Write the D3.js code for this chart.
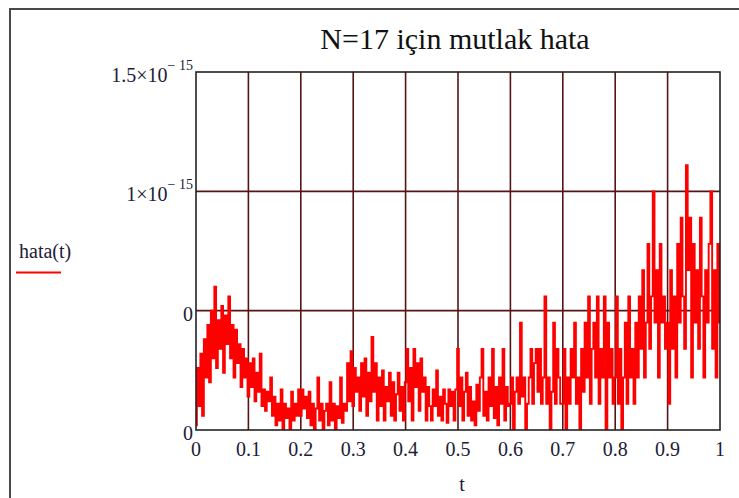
<!DOCTYPE html>
<html>
<head>
<meta charset="utf-8">
<script src="https://cdn.jsdelivr.net/npm/d3@7"></script>
<style>
  html, body { margin: 0; padding: 0; background: #fff; }
  svg { display: block; }
</style>
</head>
<body>
<div id="chart"></div>
<script>
// hata(t) values, in units of 1e-16 (30 samples per 0.1 of t)
const seg0 = [0.2, 2.6, 1.0, 3.2, 0.6, 3.8, 2.2, 4.4, 2.0, 5.0, 3.0, 6.0, 2.6, 4.6, 3.4, 5.2, 2.4, 4.8, 3.6, 5.6, 3.0, 4.4, 2.2, 4.2, 2.8, 3.6, 1.8, 3.4, 2.2, 3.0];
const seg1 = [1.4, 2.8, 1.8, 3.0, 1.2, 2.4, 1.6, 3.2, 1.0, 1.7, 0.8, 1.6, 1.2, 2.2, 0.6, 1.4, 0.2, 1.1, 0.4, 1.7, 0.0, 1.1, 0.5, 0.9, 0.0, 1.6, 0.4, 1.1, 0.6, 1.7];
const seg2 = [0.6, 1.7, 0.9, 1.4, 0.5, 1.6, 0.2, 1.1, 0.0, 0.9, 2.2, 0.4, 1.1, 0.0, 0.8, 1.1, 0.2, 2.0, 0.4, 1.1, 0.0, 1.0, 0.5, 2.2, 0.3, 1.1, 0.8, 2.8, 1.2, 3.3];
const seg3 = [1.0, 2.6, 1.6, 2.2, 0.8, 2.8, 1.4, 3.0, 0.6, 2.4, 1.2, 3.9, 1.6, 2.8, 0.4, 2.2, 1.0, 2.5, 0.4, 1.8, 1.2, 2.4, 0.6, 2.0, 0.4, 1.5, 2.4, 0.8, 1.8, 0.4];
const seg4 = [2.0, 3.4, 1.2, 2.6, 0.4, 3.4, 1.8, 2.8, 0.8, 3.0, 1.6, 2.2, 0.4, 1.8, 1.0, 0.4, 1.7, 1.0, 2.5, 0.6, 1.4, 0.4, 1.7, 1.1, 0.3, 1.7, 1.0, 1.6, 0.4, 1.7];
const seg5 = [3.4, 1.0, 2.2, 0.4, 1.6, 2.4, 0.6, 1.8, 0.4, 1.2, 0.2, 1.9, 0.8, 2.2, 3.4, 0.6, 1.6, 0.4, 2.2, 1.0, 3.4, 0.5, 1.8, 0.2, 2.2, 1.1, 3.4, 0.4, 1.8, 1.0];
const seg6 = [1.1, 2.2, 0.0, 1.6, 2.2, 1.1, 4.5, 1.4, 2.2, 0.0, 1.1, 2.2, 3.4, 1.1, 2.8, 3.4, 1.6, 3.4, 1.1, 2.2, 5.6, 1.1, 2.2, 0.0, 1.6, 4.5, 1.1, 3.4, 2.2, 1.1];
const seg7 = [1.1, 3.4, 0.0, 2.2, 1.1, 3.4, 2.2, 4.5, 1.1, 2.2, 0.0, 3.4, 1.6, 4.5, 2.2, 5.6, 1.1, 3.4, 4.5, 2.2, 5.6, 1.1, 3.4, 2.2, 5.6, 0.0, 4.5, 2.2, 3.4, 1.1];
const seg8 = [2.2, 5.6, 1.1, 3.4, 0.0, 2.2, 4.5, 1.1, 5.6, 2.2, 3.4, 1.1, 4.5, 2.2, 5.6, 3.4, 6.7, 2.2, 4.5, 7.8, 3.4, 5.6, 10.0, 4.5, 6.7, 2.2, 7.8, 4.5, 5.6, 3.4];
const seg9 = [4.5, 1.1, 6.7, 3.4, 5.6, 2.2, 7.8, 4.5, 8.9, 5.6, 3.4, 11.1, 6.7, 8.9, 2.2, 7.8, 4.5, 6.7, 3.4, 8.9, 5.6, 2.2, 6.7, 4.5, 7.8, 10.0, 3.4, 6.7, 2.2, 7.8, 4.5];

// tick labels
const xTicks = [0, 0.1, 0.2, 0.3, 0.4, 0.5, 0.6, 0.7, 0.8, 0.9, 1];
const xTickLabels = ["0", "0.1", "0.2", "0.3", "0.4", "0.5", "0.6", "0.7", "0.8", "0.9", "1"];
const yTicks = [0, 5, 10, 15];
const yTickBase = ["0", "0", "1\u00d710", "1.5\u00d710"];
const yTickExp = ["", "", "\u2212 15", "\u2212 15"];

const hata = [].concat(seg0, seg1, seg2, seg3, seg4, seg5, seg6, seg7, seg8, seg9);
const n = hata.length - 1;
const data = hata.map((v, i) => ({t: i / n, v: v}));

const W = 739, H = 498;
const plot = {left: 196, right: 720, top: 72, bottom: 430};
const serif = "'Liberation Serif', 'Times New Roman', serif";
const inkColor = "#1c2036";

const svg = d3.select("#chart")
    .append("svg")
        .attr("width", W)
        .attr("height", H);

// outer frame (runs off the right and bottom edges)
svg.append("path")
    .attr("d", `M10,${H + 5} L10,9 L${W + 5},9`)
    .attr("fill", "none")
    .attr("stroke", "#4a4a4a")
    .attr("stroke-width", 2);

const x = d3.scaleLinear().domain([0, 1]).range([plot.left, plot.right]);
const y = d3.scaleLinear().domain([0, 15]).range([plot.bottom, plot.top]);

// grid
svg.append("g")
    .selectAll("line")
    .data(xTicks.slice(1, -1))
    .join("line")
        .attr("x1", d => x(d)).attr("x2", d => x(d))
        .attr("y1", plot.top).attr("y2", plot.bottom)
        .attr("stroke", "#561414")
        .attr("stroke-width", 1.6);
svg.append("g")
    .selectAll("line")
    .data(yTicks.slice(1, -1))
    .join("line")
        .attr("x1", plot.left).attr("x2", plot.right)
        .attr("y1", d => y(d)).attr("y2", d => y(d))
        .attr("stroke", "#561414")
        .attr("stroke-width", 1.6);

// the trace
svg.append("clipPath")
    .attr("id", "clip")
    .append("rect")
        .attr("x", plot.left).attr("y", plot.top)
        .attr("width", plot.right - plot.left)
        .attr("height", plot.bottom - plot.top);

const line = d3.line()
    .curve(d3.curveStep)
    .x(d => x(d.t))
    .y(d => y(d.v));

svg.append("path")
    .datum(data)
    .attr("clip-path", "url(#clip)")
    .attr("fill", "none")
    .attr("stroke", "#ff0000")
    .attr("stroke-width", 1.9)
    .attr("d", line);

// plot box
svg.append("rect")
    .attr("x", plot.left).attr("y", plot.top)
    .attr("width", plot.right - plot.left)
    .attr("height", plot.bottom - plot.top)
    .attr("fill", "none")
    .attr("stroke", "#222")
    .attr("stroke-width", 1.6);

// x tick labels
svg.append("g")
    .selectAll("text")
    .data(xTicks)
    .join("text")
        .attr("x", d => x(d))
        .attr("y", 456)
        .attr("text-anchor", "middle")
        .style("font-family", serif)
        .style("font-size", "20px")
        .style("fill", inkColor)
        .text((d, i) => xTickLabels[i]);

// y tick labels
const yLab = svg.append("g")
    .selectAll("text")
    .data(yTicks)
    .join("text")
        .attr("x", 193)
        .attr("y", d => y(d) + 10)
        .attr("text-anchor", "end")
        .style("font-family", serif)
        .style("font-size", "20px")
        .style("fill", inkColor);
yLab.append("tspan").text((d, i) => yTickBase[i]);
yLab.filter((d, i) => yTickExp[i] !== "")
    .append("tspan")
        .attr("dy", -12)
        .style("font-size", "14px")
        .text(d => yTickExp[yTicks.indexOf(d)]);

// axis titles
svg.append("text")
    .attr("x", x(0.5) + 4)
    .attr("y", 491)
    .attr("text-anchor", "middle")
    .style("font-family", serif)
    .style("font-size", "20px")
    .style("fill", inkColor)
    .text("t");

svg.append("text")
    .attr("x", 19)
    .attr("y", 258)
    .style("font-family", serif)
    .style("font-size", "20px")
    .style("fill", inkColor)
    .text("hata(t)");
svg.append("line")
    .attr("x1", 16).attr("x2", 61)
    .attr("y1", 272.5).attr("y2", 272.5)
    .attr("stroke", "#ff0000")
    .attr("stroke-width", 2);

// title
svg.append("text")
    .attr("x", 455)
    .attr("y", 49)
    .attr("text-anchor", "middle")
    .style("font-family", serif)
    .style("font-size", "30px")
    .style("fill", "#111")
    .text("N=17 için mutlak hata");
</script>
</body>
</html>
